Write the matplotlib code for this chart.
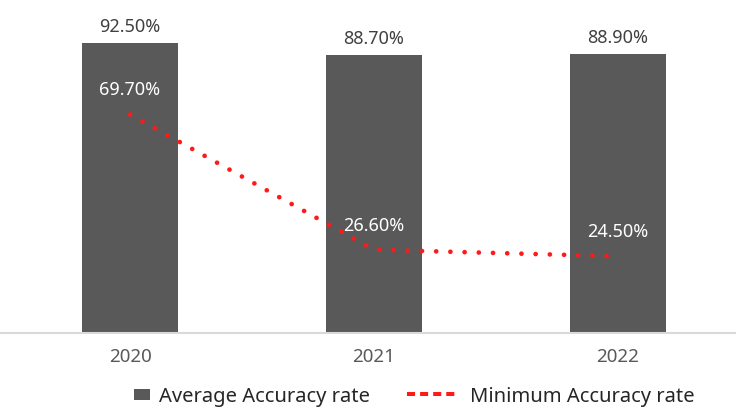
import matplotlib
matplotlib.use("Agg")
import matplotlib.pyplot as plt
from matplotlib.lines import Line2D
from matplotlib.patches import Rectangle
from matplotlib.legend_handler import HandlerBase

years = ["2020", "2021", "2022"]
avg_acc = [92.5, 88.7, 88.9]
min_acc = [69.7, 26.6, 24.5]
avg_labels = ["92.50%", "88.70%", "88.90%"]
min_labels = ["69.70%", "26.60%", "24.50%"]

plt.rcParams['font.family'] = ['Noto Sans', 'DejaVu Sans']

fig = plt.figure(figsize=(7.36, 4.10), dpi=100)
ax = fig.add_axes([0.0, 0.185, 1.0, 0.815])

x = list(range(len(years)))
bar_color = "#595959"
line_color = "#ff1a1a"
ax.bar(x, avg_acc, width=0.393, color=bar_color, zorder=2)
ax.plot(x, min_acc, color=line_color, linewidth=3.4, linestyle=(0, (0.01, 3.0)),
        dash_capstyle="round", zorder=3)

for xi, v, lab in zip(x, avg_acc, avg_labels):
    ax.annotate(lab, (xi, v), xytext=(0, 6), textcoords="offset points",
                ha="center", va="bottom", fontsize=13, color="#404040")
for xi, v, lab in zip(x, min_acc, min_labels):
    ax.annotate(lab, (xi, v), xytext=(0, 18), textcoords="offset points",
                ha="center", va="center", fontsize=13, color="white", zorder=4)

ax.set_xlim(-0.533, 2.484)
ax.set_ylim(0, 106.5)
ax.set_xticks(x)
ax.set_xticklabels(years, fontsize=13.5, color="#595959")
ax.tick_params(axis="x", length=0, pad=10)
ax.set_yticks([])
for s in ["top", "right", "left"]:
    ax.spines[s].set_visible(False)
ax.spines["bottom"].set_color("#d9d9d9")
ax.spines["bottom"].set_linewidth(1.5)


class RectHandler(HandlerBase):
    def create_artists(self, legend, orig_handle, xdescent, ydescent,
                       width, height, fontsize, trans):
        w, h = 12.2, 7.9
        x0 = -xdescent + width - 7.4
        y0 = -ydescent + (height - h) / 2 - 1.0
        r = Rectangle((x0, y0), w, h, facecolor=bar_color, edgecolor="none",
                      transform=trans)
        return [r]


rect_handle = Rectangle((0, 0), 1, 1, facecolor=bar_color)
line_handle = Line2D([], [], color=line_color, linewidth=2.9,
                     linestyle=(0, (2.0, 1.25)))
leg = fig.legend([rect_handle, line_handle],
                 ["Average Accuracy rate", "Minimum Accuracy rate"],
                 handler_map={Rectangle: RectHandler()},
                 loc="lower center", bbox_to_anchor=(0.537, -0.036), ncol=2,
                 frameon=False, fontsize=14.5, handlelength=2.39,
                 columnspacing=1.84, handletextpad=0.75)
for t in leg.get_texts():
    t.set_color("#262626")

fig.savefig("out.png", dpi=100)
